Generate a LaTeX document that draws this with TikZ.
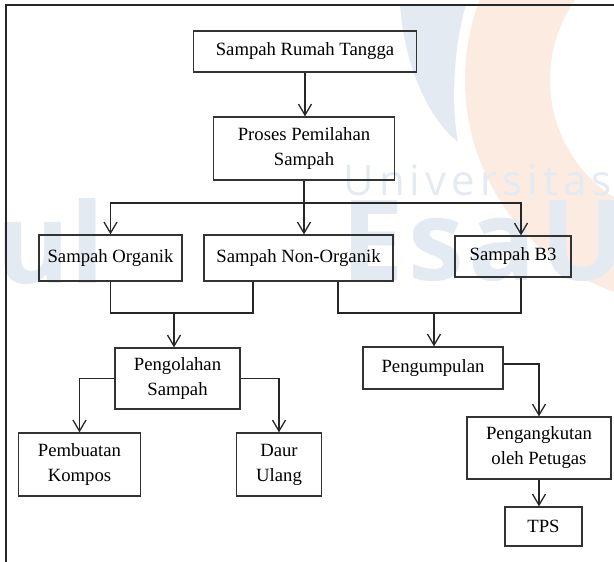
\documentclass[tikz,border=0pt]{standalone}
\usepackage{fontspec}
\setmainfont{Liberation Serif}
\newfontfamily\wmfont{Open Sans}
\usetikzlibrary{arrows.meta}
\definecolor{wmbiru}{HTML}{E4EAF2}
\definecolor{wmoranye}{HTML}{FBEBE0}
\tikzset{
	kotak/.style={draw=black!80, line width=1.3pt, align=center, inner sep=2pt,
		font=\fontsize{18.7}{25}\selectfont},
	panah/.style={draw=black!85, line width=1.3pt, -{Straight Barb[length=11pt,width=13pt]}},
	garis/.style={draw=black!85, line width=1.3pt},
}
\begin{document}
\begin{tikzpicture}[x=1pt,y=-1pt]
			\useasboundingbox (0,0) rectangle (614,562);
			% Watermark in the background
			\fill[wmoranye, even odd rule] (690,80) circle (225) (690,80) circle (140);
			\fill[wmbiru] (400,5) .. controls (405,70) and (430,120) .. (458,142)
				.. controls (450,100) and (455,40) .. (466,5) -- cycle;
			\node[wmbiru, anchor=west, font=\wmfont\fontsize{42}{42}\selectfont\addfontfeature{LetterSpace=12}]
				(wmuniv) at (340,180) {Universitas};
			\node[wmbiru, anchor=base west, font=\wmfont\bfseries\fontsize{112}{112}\selectfont\addfontfeature{LetterSpace=4}]
				(wmesa) at (338,280) {EsaU};
			\node[wmbiru, anchor=base east, font=\wmfont\bfseries\fontsize{112}{112}\selectfont]
				(wmul) at (108,283) {ul};
			% Frame (top and left edges)
			\draw[garis] (6,562) -- (6,5) -- (614,5);
			% Boxes
			\node[kotak, minimum width=223pt, minimum height=41pt] (rumah) at (305,51.5) {Sampah Rumah Tangga};
			\node[kotak, minimum width=181pt, minimum height=63pt] (pilah) at (304,148.5) {Proses Pemilahan\\Sampah};
			\node[kotak, minimum width=143pt, minimum height=46pt] (organik) at (110.5,258) {Sampah Organik};
			\node[kotak, minimum width=189pt, minimum height=46pt] (nonorganik) at (298.5,258) {Sampah Non-Organik};
			\node[kotak, minimum width=116pt, minimum height=41pt] (bthree) at (513,256.5) {Sampah B3};
			\node[kotak, minimum width=125pt, minimum height=61pt] (olah) at (177.5,378.5) {Pengolahan\\Sampah};
			\node[kotak, minimum width=140pt, minimum height=42pt] (kumpul) at (433,368) {Pengumpulan};
			\node[kotak, minimum width=122pt, minimum height=63pt] (kompos) at (79.5,464.5) {Pembuatan\\Kompos};
			\node[kotak, minimum width=85pt, minimum height=63pt] (daur) at (279,464.5) {Daur\\Ulang};
			\node[kotak, minimum width=144pt, minimum height=62pt] (angkut) at (539,448) {Pengangkutan\\oleh Petugas};
			\node[kotak, minimum width=77pt, minimum height=39pt] (tps) at (543.5,526.5) {TPS};
			% Connectors
			\coordinate (cabang) at (305,203);
			\coordinate (gabungkiri) at (174,313);
			\coordinate (gabungkanan) at (434,313);
			\draw[panah] (rumah.south) -- (rumah.south |- pilah.north);
			\draw[panah] (pilah.south) -- (pilah.south |- nonorganik.north);
			\draw[panah] (cabang) -| (organik.north);
			\draw[panah] (cabang) -| ([xshift=8pt]bthree.north);
			\draw[garis] (organik.south) |- (gabungkiri) -| ([xshift=-45.5pt]nonorganik.south);
			\draw[panah] (gabungkiri) -- (gabungkiri |- olah.north);
			\draw[garis] ([xshift=39.5pt]nonorganik.south) |- (gabungkanan) -| ([xshift=8pt]bthree.south);
			\draw[panah] (gabungkanan) -- (gabungkanan |- kumpul.north);
			\draw[panah] (olah.west) -| (kompos.north);
			\draw[panah] (olah.east) -| (daur.north);
			\draw[panah] ([yshift=4pt]kumpul.east) -| (angkut.north);
			\draw[panah] (angkut.south) -- (angkut.south |- tps.north);
		\end{tikzpicture}
\end{document}
